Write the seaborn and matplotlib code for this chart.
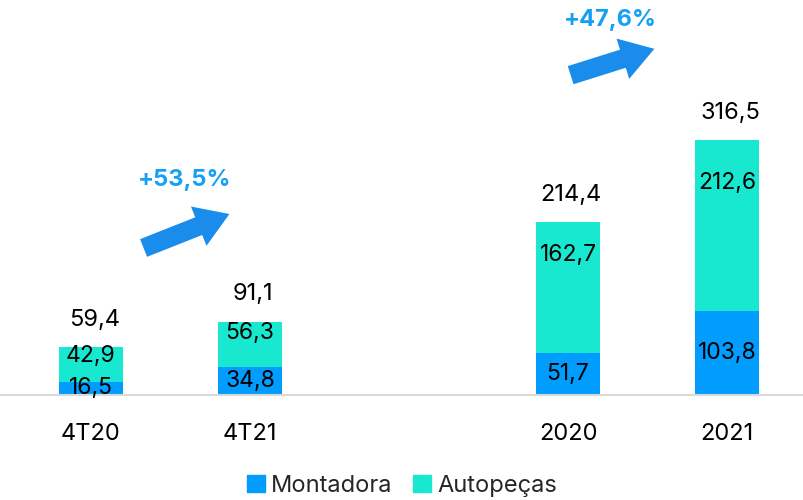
import matplotlib.pyplot as plt
from matplotlib.patches import FancyArrowPatch
import seaborn as sns
import pandas as pd

# Data
periods = ["4T20", "4T21", "2020", "2021"]
positions = [0, 1, 3, 4]
montadora = [16.5, 34.8, 51.7, 103.8]
autopecas = [42.9, 56.3, 162.7, 212.6]
totals = [59.4, 91.1, 214.4, 316.5]
growth_labels = ["+53,5%", "+47,6%"]

blue = "#009DFF"
teal = "#17E8CF"
arrow_blue = "#1A8CEB"

sns.set_theme(style="white")
plt.rcParams["font.family"] = ["Inter", "DejaVu Sans"]

df = pd.DataFrame(
    {
        "pos": positions,
        "Montadora": montadora,
        "Autopecas": autopecas,
    }
)
df["stack"] = df["Montadora"] + df["Autopecas"]

fig = plt.figure(figsize=(8.04, 5.0), dpi=100, facecolor="w")
ax = fig.add_axes([0.0, 0.21, 1.0, 0.79])

# Stacked bars: full height in teal, then the blue part on top of it
sns.barplot(ax=ax, data=df, x="pos", y="stack", native_scale=True,
            width=0.4, color=teal, saturation=1, linewidth=0)
sns.barplot(ax=ax, data=df, x="pos", y="Montadora", native_scale=True,
            width=0.4, color=blue, saturation=1, linewidth=0)

ax.set_xlim(-0.572, 4.484)
ax.set_ylim(0, 490)
ax.set_xlabel("")
ax.set_ylabel("")
ax.set_yticks([])
ax.set_xticks(positions)
ax.set_xticklabels(periods, fontsize=17)
ax.tick_params(axis="x", length=0, pad=20, colors="black")
for side in ["left", "right", "top"]:
    ax.spines[side].set_visible(False)
ax.spines["bottom"].set_color("#D9D9D9")
ax.spines["bottom"].set_linewidth(1.5)

# Value labels
for p, m, a, t in zip(positions, montadora, autopecas, totals):
    ax.text(p, m / 2, f"{m:.1f}".replace(".", ","), ha="center", va="center",
            fontsize=16.5, color="black")
    ax.text(p, m + a * 0.75, f"{a:.1f}".replace(".", ","), ha="center",
            va="center", fontsize=16.5, color="black")
    ax.text(p + 0.02, m + a + 34, f"{t:.1f}".replace(".", ","), ha="center",
            va="center", fontsize=17, color="black")

# Growth arrows and percentages (figure pixel coords)
arrows = [((141, 251), (232, 287)), ((568, 424), (657, 452))]
text_pos = [(185, 320), (610, 480)]
for (tail, tip), tp, lab in zip(arrows, text_pos, growth_labels):
    arr = FancyArrowPatch(
        (tail[0] / 804, tail[1] / 500), (tip[0] / 804, tip[1] / 500),
        transform=fig.transFigure,
        arrowstyle="simple,head_length=1.25,head_width=1.6,tail_width=0.72",
        mutation_scale=19, color=arrow_blue, lw=0,
    )
    fig.patches.append(arr)
    fig.text(tp[0] / 804, tp[1] / 500, lab, ha="center", va="center",
             fontsize=17, fontweight="bold", color="#14A0F5")

# Legend
handles = [
    plt.Rectangle((0, 0), 1, 1, color=blue),
    plt.Rectangle((0, 0), 1, 1, color=teal),
]
fig.legend(handles, ["Montadora", "Autopeças"], loc="center",
           bbox_to_anchor=(0.5, 0.028), ncol=2, frameon=False, fontsize=17,
           handlelength=0.75, handleheight=0.75, handletextpad=0.25,
           columnspacing=0.9)

fig.savefig("out.png", dpi=100)
plt.close()
